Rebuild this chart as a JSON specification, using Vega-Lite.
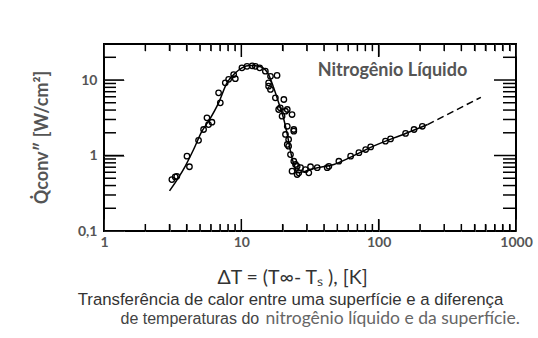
{
  "$schema": "https://vega.github.io/schema/vega-lite/v6.json",
  "width": 412,
  "height": 187,
  "autosize": "none",
  "padding": {"left": 104, "top": 44, "right": 22, "bottom": 107},
  "background": "white",
  "config": {
    "view": {"stroke": "black", "strokeWidth": 2},
    "axis": {
      "domain": false,
      "grid": false,
      "labelFont": "Lato",
      "labelFontWeight": "bold",
      "labelFontSize": 14,
      "labelColor": "#555555",
      "labelFlush": false,
      "labelOverlap": false,
      "titleFont": "Lato",
      "titleColor": "#555555"
    }
  },
  "datasets": {
    "pts": [
      {"x": 3.12, "y": 0.48}, {"x": 3.3, "y": 0.52}, {"x": 3.39, "y": 0.53}, {"x": 4.19, "y": 0.71},
      {"x": 4.02, "y": 0.98}, {"x": 4.88, "y": 1.59}, {"x": 5.31, "y": 2.21}, {"x": 5.77, "y": 2.57},
      {"x": 5.62, "y": 3.16}, {"x": 6.11, "y": 2.76}, {"x": 7.03, "y": 4.99}, {"x": 6.83, "y": 6.77},
      {"x": 7.64, "y": 9.18}, {"x": 8.08, "y": 10.2}, {"x": 9.04, "y": 10.4}, {"x": 8.79, "y": 11.8},
      {"x": 10.1, "y": 14.5}, {"x": 11.0, "y": 15.2}, {"x": 12.0, "y": 15.4}, {"x": 12.65, "y": 15.2},
      {"x": 13.6, "y": 14.5}, {"x": 14.96, "y": 13.1}, {"x": 18.2, "y": 11.5}, {"x": 16.3, "y": 11.2},
      {"x": 15.8, "y": 9.18}, {"x": 15.8, "y": 8.3}, {"x": 16.3, "y": 7.5}, {"x": 17.7, "y": 5.81},
      {"x": 20.4, "y": 5.52}, {"x": 18.7, "y": 4.07}, {"x": 19.2, "y": 4.28}, {"x": 20.96, "y": 3.86},
      {"x": 21.6, "y": 4.07}, {"x": 23.4, "y": 3.49}, {"x": 19.8, "y": 3.32}, {"x": 21.6, "y": 2.44},
      {"x": 24.1, "y": 2.21}, {"x": 24.1, "y": 2.1}, {"x": 20.96, "y": 1.9}, {"x": 22.1, "y": 1.63},
      {"x": 21.6, "y": 1.4}, {"x": 22.1, "y": 1.33}, {"x": 22.8, "y": 1.03}, {"x": 24.1, "y": 0.84},
      {"x": 24.8, "y": 0.76}, {"x": 25.5, "y": 0.72}, {"x": 23.4, "y": 0.62}, {"x": 25.5, "y": 0.56},
      {"x": 26.2, "y": 0.59}, {"x": 29.3, "y": 0.65}, {"x": 31.0, "y": 0.59}, {"x": 27.0, "y": 0.69},
      {"x": 31.9, "y": 0.71}, {"x": 35.7, "y": 0.69}, {"x": 42.2, "y": 0.69}, {"x": 43.4, "y": 0.72},
      {"x": 51.3, "y": 0.84}, {"x": 62.5, "y": 0.98}, {"x": 71.8, "y": 1.09}, {"x": 80.4, "y": 1.2},
      {"x": 87.4, "y": 1.3}, {"x": 112, "y": 1.55}, {"x": 122, "y": 1.66}, {"x": 157, "y": 1.96},
      {"x": 181, "y": 2.21}, {"x": 208, "y": 2.44}
    ],
    "curve": [
      {"x": 3.0, "y": 0.34}, {"x": 3.9, "y": 0.72}, {"x": 4.49, "y": 1.2}, {"x": 5.17, "y": 2.1},
      {"x": 5.77, "y": 2.85}, {"x": 6.83, "y": 4.99}, {"x": 7.86, "y": 9.18}, {"x": 9.04, "y": 12.4},
      {"x": 10.1, "y": 14.5}, {"x": 11.6, "y": 15.6}, {"x": 13.8, "y": 15.0}, {"x": 15.8, "y": 11.8},
      {"x": 17.2, "y": 7.88}, {"x": 18.7, "y": 4.99}, {"x": 20.4, "y": 3.0}, {"x": 21.6, "y": 1.9},
      {"x": 22.8, "y": 1.14}, {"x": 24.1, "y": 0.76}, {"x": 25.5, "y": 0.59}, {"x": 29.3, "y": 0.62},
      {"x": 33.7, "y": 0.67}, {"x": 47.2, "y": 0.76}, {"x": 62.5, "y": 0.95}, {"x": 87.4, "y": 1.28},
      {"x": 157, "y": 1.96}, {"x": 227, "y": 2.57}
    ],
    "dash": [
      {"x": 227, "y": 2.57}, {"x": 555, "y": 5.9}
    ],
    "label": [
      {"x": 126, "y": 13, "t": "Nitrogênio Líquido"}
    ],
    "xt": [
      {"v": 1, "k": "M"}, {"v": 10, "k": "M"}, {"v": 100, "k": "M"}, {"v": 1000, "k": "M"},
      {"v": 2, "k": "m"}, {"v": 3, "k": "m"}, {"v": 4, "k": "m"}, {"v": 5, "k": "m"}, {"v": 6, "k": "m"}, {"v": 7, "k": "m"}, {"v": 8, "k": "m"}, {"v": 9, "k": "m"},
      {"v": 20, "k": "m"}, {"v": 30, "k": "m"}, {"v": 40, "k": "m"}, {"v": 50, "k": "m"}, {"v": 60, "k": "m"}, {"v": 70, "k": "m"}, {"v": 80, "k": "m"}, {"v": 90, "k": "m"},
      {"v": 200, "k": "m"}, {"v": 300, "k": "m"}, {"v": 400, "k": "m"}, {"v": 500, "k": "m"}, {"v": 600, "k": "m"}, {"v": 700, "k": "m"}, {"v": 800, "k": "m"}, {"v": 900, "k": "m"}
    ],
    "yt": [
      {"v": 0.1, "k": "M"}, {"v": 1, "k": "M"}, {"v": 10, "k": "M"},
      {"v": 0.2, "k": "m"}, {"v": 0.3, "k": "m"}, {"v": 0.4, "k": "m"}, {"v": 0.5, "k": "m"}, {"v": 0.6, "k": "m"}, {"v": 0.7, "k": "m"}, {"v": 0.8, "k": "m"}, {"v": 0.9, "k": "m"},
      {"v": 2, "k": "m"}, {"v": 3, "k": "m"}, {"v": 4, "k": "m"}, {"v": 5, "k": "m"}, {"v": 6, "k": "m"}, {"v": 7, "k": "m"}, {"v": 8, "k": "m"}, {"v": 9, "k": "m"},
      {"v": 20, "k": "m"}
    ]
  },
  "layer": [
    {
      "data": {"name": "xt"},
      "transform": [{"filter": "datum.k == 'M'"}],
      "mark": {"type": "tick", "orient": "vertical", "size": 12, "thickness": 1.5, "yOffset": -6, "color": "black", "opacity": 1},
      "encoding": {
        "x": {"field": "v", "type": "quantitative", "axis": null},
        "y": {"datum": 0.1, "type": "quantitative", "axis": null}
      }
    },
    {
      "data": {"name": "xt"},
      "transform": [{"filter": "datum.k == 'm'"}],
      "mark": {"type": "tick", "orient": "vertical", "size": 7, "thickness": 1.5, "yOffset": -3.5, "color": "black", "opacity": 1},
      "encoding": {
        "x": {"field": "v", "type": "quantitative", "axis": null},
        "y": {"datum": 0.1, "type": "quantitative", "axis": null}
      }
    },
    {
      "data": {"name": "xt"},
      "transform": [{"filter": "datum.k == 'M'"}],
      "mark": {"type": "tick", "orient": "vertical", "size": 13, "thickness": 1.5, "yOffset": 6.5, "color": "black", "opacity": 1},
      "encoding": {
        "x": {"field": "v", "type": "quantitative", "axis": null},
        "y": {"datum": 30, "type": "quantitative", "axis": null}
      }
    },
    {
      "data": {"name": "xt"},
      "transform": [{"filter": "datum.k == 'm'"}],
      "mark": {"type": "tick", "orient": "vertical", "size": 7, "thickness": 1.5, "yOffset": 3.5, "color": "black", "opacity": 1},
      "encoding": {
        "x": {"field": "v", "type": "quantitative", "axis": null},
        "y": {"datum": 30, "type": "quantitative", "axis": null}
      }
    },
    {
      "data": {"name": "yt"},
      "transform": [{"filter": "datum.k == 'M'"}],
      "mark": {"type": "tick", "orient": "horizontal", "size": 20, "thickness": 1.5, "xOffset": 10, "color": "black", "opacity": 1},
      "encoding": {
        "y": {"field": "v", "type": "quantitative", "axis": null},
        "x": {"datum": 1, "type": "quantitative", "axis": null}
      }
    },
    {
      "data": {"name": "yt"},
      "transform": [{"filter": "datum.k == 'm'"}],
      "mark": {"type": "tick", "orient": "horizontal", "size": 12, "thickness": 1.5, "xOffset": 6, "color": "black", "opacity": 1},
      "encoding": {
        "y": {"field": "v", "type": "quantitative", "axis": null},
        "x": {"datum": 1, "type": "quantitative", "axis": null}
      }
    },
    {
      "data": {"name": "yt"},
      "transform": [{"filter": "datum.k == 'M'"}],
      "mark": {"type": "tick", "orient": "horizontal", "size": 22, "thickness": 1.5, "xOffset": -11, "color": "black", "opacity": 1},
      "encoding": {
        "y": {"field": "v", "type": "quantitative", "axis": null},
        "x": {"datum": 1000, "type": "quantitative", "axis": null}
      }
    },
    {
      "data": {"name": "yt"},
      "transform": [{"filter": "datum.k == 'm'"}],
      "mark": {"type": "tick", "orient": "horizontal", "size": 13, "thickness": 1.5, "xOffset": -6.5, "color": "black", "opacity": 1},
      "encoding": {
        "y": {"field": "v", "type": "quantitative", "axis": null},
        "x": {"datum": 1000, "type": "quantitative", "axis": null}
      }
    },
    {
      "data": {"name": "pts"},
      "mark": {"type": "point", "shape": "circle", "filled": false, "stroke": "black", "strokeWidth": 1.3, "size": 30, "opacity": 1},
      "encoding": {
        "x": {
          "field": "x", "type": "quantitative",
          "scale": {"type": "log", "domain": [1, 1000], "nice": false},
          "axis": {
            "orient": "bottom",
            "values": [1, 10, 100, 1000],
            "offset": -12,
            "tickSize": 12,
            "labelExpr": "format(datum.value, 'd')",
            "labelPadding": 4,
            "title": "ΔT = (T∞- Tₛ ), [K]",
            "titleFontSize": 19.5,
            "titleFontWeight": "normal",
            "titleColor": "#333333",
            "titleX": 188,
            "titleY": 58,
            "titleBaseline": "middle",
            "titleAlign": "center"
          }
        },
        "y": {
          "field": "y", "type": "quantitative",
          "scale": {"type": "log", "domain": [0.1, 30], "nice": false},
          "axis": {
            "orient": "left",
            "values": [0.1, 1, 10],
            "offset": -20,
            "tickSize": 20,
            "labelExpr": "replace(format(datum.value, '~g'), '.', ',')",
            "labelPadding": 7,
            "title": "Q̇conv″ [W/cm²]",
            "titleFontSize": 18,
            "titleFontWeight": "bold",
            "titleAngle": -90,
            "titleX": -82,
            "titleY": 93,
            "titleBaseline": "middle",
            "titleAlign": "center"
          }
        }
      }
    },
    {
      "data": {"name": "curve"},
      "mark": {"type": "line", "color": "black", "strokeWidth": 1.5, "interpolate": "monotone"},
      "encoding": {
        "x": {
          "field": "x", "type": "quantitative",
          "axis": {
            "orient": "top",
            "values": [1, 10, 100, 1000],
            "offset": -12,
            "tickSize": 12,
            "labels": false,
            "title": "Transferência de calor entre uma superfície e a diferença",
            "titleFont": "Liberation Sans",
            "titleFontSize": 16.8,
            "titleFontWeight": "normal",
            "titleColor": "#333333",
            "titleAlign": "center",
            "titleBaseline": "alphabetic",
            "titleX": 186,
            "titleY": 248
          }
        },
        "y": {"field": "y", "type": "quantitative", "axis": null}
      }
    },
    {
      "data": {"name": "dash"},
      "mark": {"type": "line", "color": "black", "strokeWidth": 1.5, "strokeDash": [7, 4]},
      "encoding": {
        "x": {
          "field": "x", "type": "quantitative",
          "axis": {
            "orient": "bottom",
            "values": [2, 3, 4, 5, 6, 7, 8, 9, 20, 30, 40, 50, 60, 70, 80, 90, 200, 300, 400, 500, 600, 700, 800, 900],
            "offset": -7,
            "tickSize": 7,
            "labels": false,
            "title": "de temperaturas do",
            "titleFont": "Liberation Sans",
            "titleFontSize": 16,
            "titleFontWeight": "normal",
            "titleColor": "#444444",
            "titleAlign": "left",
            "titleBaseline": "alphabetic",
            "titleX": 16,
            "titleY": 99
          }
        },
        "y": {"field": "y", "type": "quantitative", "axis": null}
      }
    },
    {
      "data": {"name": "label"},
      "mark": {"type": "text", "font": "Lato", "fontWeight": "bold", "fontSize": 18, "color": "#555555", "align": "center", "baseline": "middle"},
      "encoding": {
        "x": {
          "field": "x", "type": "quantitative",
          "axis": {
            "orient": "top",
            "values": [2, 3, 4, 5, 6, 7, 8, 9, 20, 30, 40, 50, 60, 70, 80, 90, 200, 300, 400, 500, 600, 700, 800, 900],
            "offset": -7,
            "tickSize": 7,
            "labels": false,
            "title": "nitrogênio líquido e da superfície.",
            "titleFont": "Lato",
            "titleFontSize": 17.5,
            "titleFontWeight": "normal",
            "titleColor": "#666666",
            "titleAlign": "left",
            "titleBaseline": "alphabetic",
            "titleX": 161,
            "titleY": 272
          }
        },
        "y": {"field": "y", "type": "quantitative", "axis": null},
        "text": {"field": "t"}
      }
    }
  ],
  "resolve": {"axis": {"x": "independent", "y": "independent"}}
}
